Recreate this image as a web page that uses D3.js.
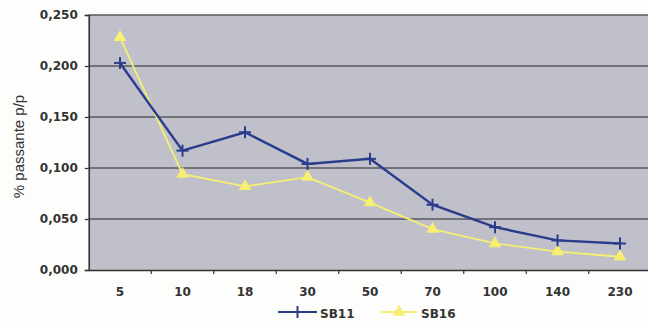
<!DOCTYPE html>
<html>
<head>
<meta charset="utf-8">
<script src="https://cdn.jsdelivr.net/npm/d3@7/dist/d3.min.js"></script>
<style>
  html, body { margin: 0; padding: 0; background: #fdfdfb; }
  svg { display: block; }
</style>
</head>
<body>
<svg id="chart" width="648" height="322"></svg>
<script>
// Sieve fractions (x categories) and passing share per sample
const categories = ["5", "10", "18", "30", "50", "70", "100", "140", "230"];
const sb11 = [0.203, 0.117, 0.135, 0.104, 0.109, 0.064, 0.042, 0.029, 0.026];
const sb16 = [0.228, 0.094, 0.082, 0.091, 0.066, 0.040, 0.026, 0.018, 0.013];
const yTicks = [0, 0.05, 0.10, 0.15, 0.20, 0.25];
const seriesNames = ["SB11", "SB16"];

const svg = d3.select("#chart");
const plotLeft = 88.75, plotTop = 15, plotBottom = 270;
const step = 62.5;
const plotRight = plotLeft + step * categories.length;

const x = d3.scaleBand().domain(categories).range([plotLeft, plotRight]);
const y = d3.scaleLinear().domain([0, 0.25]).range([plotBottom, plotTop]);
const fmt = v => d3.format(".3f")(v).replace(".", ",");

const tickFont = "DejaVu Sans, sans-serif";

// plot background
svg.append("rect")
  .attr("x", plotLeft).attr("y", plotTop)
  .attr("width", plotRight - plotLeft).attr("height", plotBottom - plotTop)
  .attr("fill", "#c0c0cb");

// horizontal gridlines
svg.append("g").selectAll("line").data(yTicks.filter(d => d > 0)).join("line")
  .attr("x1", plotLeft).attr("x2", plotRight)
  .attr("y1", d => y(d)).attr("y2", d => y(d))
  .attr("stroke", "#58585e").attr("stroke-width", 1.6);

// y axis
const yAxis = svg.append("g")
  .attr("transform", `translate(${plotLeft},0)`)
  .call(d3.axisLeft(y).tickValues(yTicks).tickFormat(fmt).tickSize(4).tickPadding(7));
yAxis.select(".domain").attr("stroke", "#333").attr("stroke-width", 1.6);
yAxis.selectAll(".tick line").attr("stroke", "#333").attr("stroke-width", 1.2);
yAxis.selectAll("text")
  .attr("font-family", tickFont).attr("font-weight", "bold")
  .attr("font-size", 12).attr("fill", "#333");

// x axis: ticks sit between categories
const xAxis = svg.append("g")
  .attr("transform", `translate(0,${plotBottom})`)
  .call(d3.axisBottom(x).tickSize(0).tickPadding(17));
xAxis.select(".domain").attr("stroke", "#333").attr("stroke-width", 1.6);
xAxis.selectAll("text")
  .attr("font-family", tickFont).attr("font-weight", "bold")
  .attr("font-size", 12).attr("fill", "#333");
xAxis.selectAll("line.sep").data(categories).join("line")
  .attr("class", "sep")
  .attr("x1", d => x(d) + x.bandwidth()).attr("x2", d => x(d) + x.bandwidth())
  .attr("y1", 0).attr("y2", 4)
  .attr("stroke", "#333").attr("stroke-width", 1.2);

// y axis title
svg.append("text")
  .attr("transform", `translate(24,${(plotTop + plotBottom) / 2 + 4}) rotate(-90)`)
  .attr("text-anchor", "middle")
  .attr("font-family", "Liberation Sans, Arial, sans-serif")
  .attr("font-size", 15).attr("fill", "#333")
  .text("% passante p/p");

const cx = (d, i) => x(categories[i]) + x.bandwidth() / 2;
const line = d3.line().x(cx).y(d => y(d));

const blue = "#2a3c8c", yellow = "#f6ef72";
const tri = d3.symbol().type(d3.symbolTriangle).size(70);

// SB16 series
svg.append("path").datum(sb16).attr("d", line)
  .attr("fill", "none").attr("stroke", yellow).attr("stroke-width", 1.8);
svg.append("g").selectAll("path").data(sb16).join("path")
  .attr("d", tri)
  .attr("transform", (d, i) => `translate(${cx(d, i)},${y(d)})`)
  .attr("fill", yellow);

// SB11 series
svg.append("path").datum(sb11).attr("d", line)
  .attr("fill", "none").attr("stroke", blue).attr("stroke-width", 2.4);
function cross(g, px, py, col) {
  g.append("line").attr("x1", px - 6).attr("x2", px + 6).attr("y1", py).attr("y2", py)
    .attr("stroke", col).attr("stroke-width", 2);
  g.append("line").attr("x1", px).attr("x2", px).attr("y1", py - 6).attr("y2", py + 6)
    .attr("stroke", col).attr("stroke-width", 2);
}
const marks = svg.append("g");
sb11.forEach((d, i) => cross(marks, cx(d, i), y(d), blue));

// legend
const leg = svg.append("g");
const ly = 312;
leg.append("line").attr("x1", 278).attr("x2", 317).attr("y1", ly).attr("y2", ly)
  .attr("stroke", blue).attr("stroke-width", 2);
cross(leg, 297.5, ly, blue);
leg.append("text").attr("x", 320).attr("y", ly + 5.5)
  .attr("font-family", tickFont).attr("font-weight", "bold")
  .attr("font-size", 12).attr("fill", "#333").text(seriesNames[0]);
leg.append("line").attr("x1", 381).attr("x2", 417).attr("y1", ly).attr("y2", ly)
  .attr("stroke", yellow).attr("stroke-width", 1.8);
leg.append("path").attr("d", tri).attr("transform", `translate(399,${ly})`).attr("fill", yellow);
leg.append("text").attr("x", 421).attr("y", ly + 5.5)
  .attr("font-family", tickFont).attr("font-weight", "bold")
  .attr("font-size", 12).attr("fill", "#333").text(seriesNames[1]);
</script>
</body>
</html>
